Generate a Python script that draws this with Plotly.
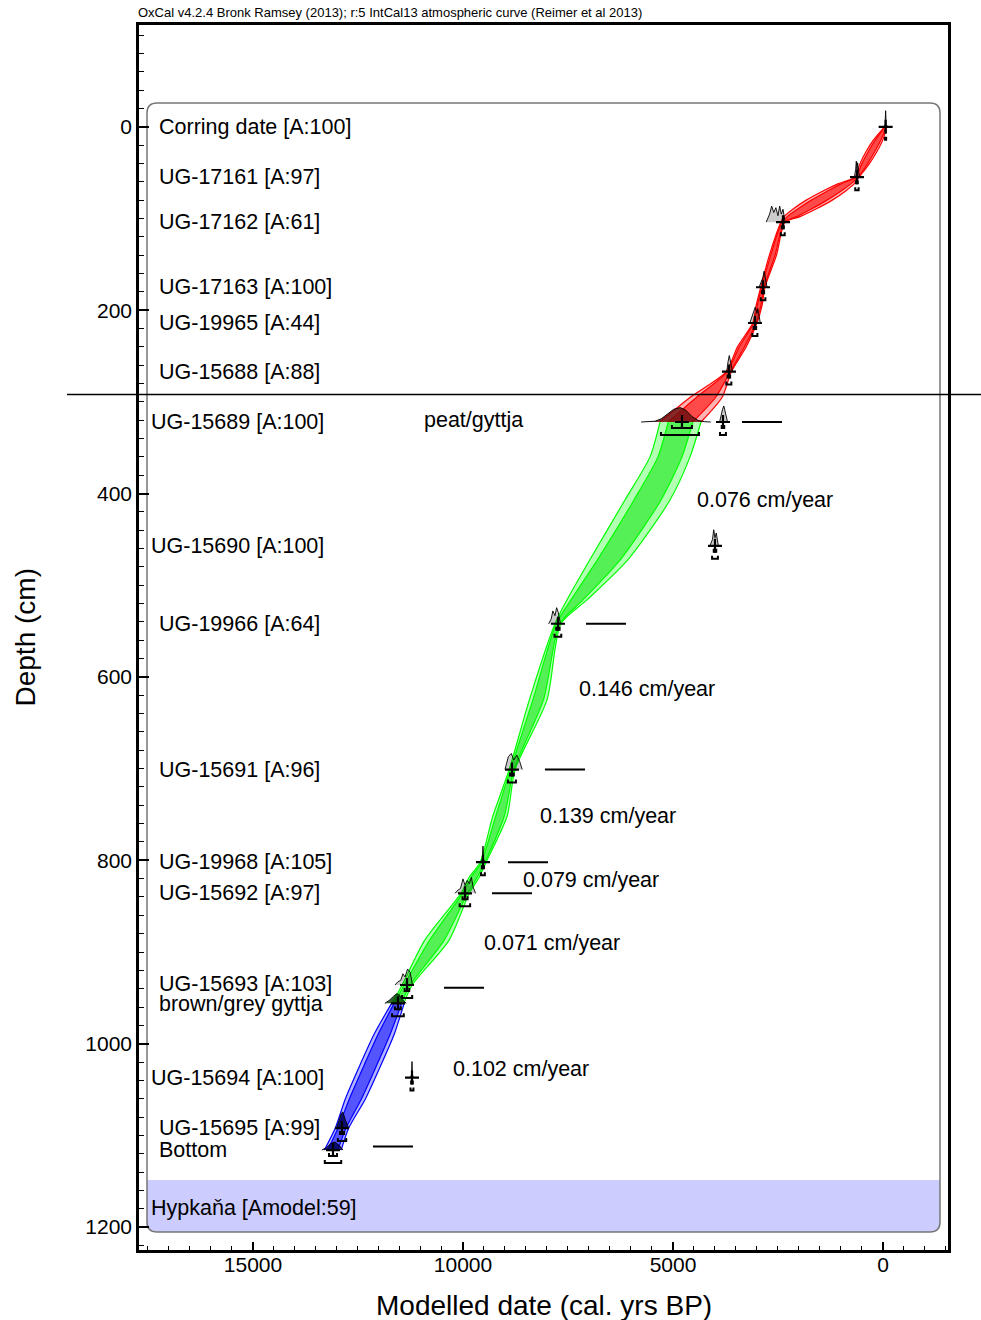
import plotly.graph_objects as go

FONT = "Liberation Sans, Arial, Helvetica, sans-serif"

# Figure and plot-area geometry (pixels)
FIG_W, FIG_H = 981, 1320
M_L, M_R, M_T, M_B = 139, 33, 25, 70
PLOT_W = FIG_W - M_L - M_R
PLOT_H = FIG_H - M_T - M_B

# Axis extents
year_range = [17714, -1548]   # cal BP, older to the left
depth_range = [1225, -111]    # cm, depth increases downward

x_major = [0, 5000, 10000, 15000]
y_major = [0, 200, 400, 600, 800, 1000, 1200]

# ---- Age-depth envelopes: 95% and 68% ranges (cal BP) at each depth ----
red_depth = [0, 14, 27, 41, 55, 62, 70, 80, 90, 98, 104, 140, 175, 195, 214,
             240, 267, 295, 322]
red_lo95 = [-88, 1, 142, 335, 569, 681, 888, 1208, 1608, 1975, 2331, 2535,
            2810, 2880, 3000, 3255, 3610, 3830, 4333]
red_hi95 = [-38, 221, 402, 555, 669, 1061, 1428, 1828, 2148, 2355, 2431, 2705,
            2910, 3020, 3100, 3465, 3730, 4590, 5310]
red_lo68 = [-78, 45, 194, 379, 589, 757, 996, 1332, 1716, 2051, 2351, 2569,
            2830, 2908, 3020, 3297, 3634, 3982, 4529]
red_hi68 = [-48, 177, 350, 511, 649, 985, 1320, 1704, 2040, 2279, 2411, 2671,
            2890, 2992, 3080, 3423, 3706, 4438, 5115]

green_depth = [322, 360, 407, 472, 516, 542, 625, 701, 752, 802, 819, 836,
               887, 936, 956]
green_lo95 = [4333, 4595, 5071, 6071, 7048, 7667, 8000, 8760, 8950, 9450,
              9620, 9850, 10330, 11210, 11410]
green_hi95 = [5310, 5548, 6143, 6976, 7524, 7810, 8420, 8900, 9290, 9590,
              9860, 10050, 10910, 11450, 11690]
green_lo68 = [4529, 4786, 5285, 6252, 7143, 7696, 8084, 8788, 9018, 9478,
              9668, 9890, 10446, 11258, 11466]
green_hi68 = [5115, 5358, 5929, 6796, 7429, 7782, 8336, 8872, 9222, 9562,
              9812, 10010, 10794, 11402, 11634]

blue_depth = [956, 990, 1023, 1060, 1092, 1116]
blue_lo95 = [11400, 11640, 11950, 12320, 12720, 12900]
blue_hi95 = [11700, 12120, 12450, 12800, 13040, 13300]
blue_lo68 = [11460, 11736, 12050, 12416, 12784, 12980]
blue_hi68 = [11640, 12024, 12350, 12704, 12976, 13220]

# ---- Modelled dates ----
mark_year = [-63, 619, 2381, 2857, 3048, 3667, 4786, 3810, 4000, 7738, 8833,
             9524, 9952, 11333, 11548, 11214, 12881, 13095]
mark_depth = [0, 55, 104, 175, 214, 267, 322, 322, 457, 542, 701,
              802, 836, 936, 956, 1037, 1092, 1116]
range68_lo = [-68, 600, 2360, 2830, 3020, 3640, 4548, 3780, 3970, 7700, 8790,
              9500, 9890, 11280, 11480, 11195, 12830, 13000]
range68_hi = [-58, 640, 2410, 2880, 3080, 3700, 5024, 3840, 4030, 7780, 8880,
              9550, 10010, 11390, 11620, 11235, 12930, 13190]
range95_lo = [-75, 580, 2340, 2800, 2990, 3610, 4381, 3740, 3930, 7660, 8740,
              9480, 9830, 11210, 11410, 11180, 12780, 12900]
range95_hi = [-50, 660, 2430, 2910, 3110, 3730, 5286, 3880, 4070, 7820, 8930,
              9570, 10080, 11450, 11690, 11250, 12980, 13290]

# Probability distributions drawn above each date (cal BP, relative density)
dist_years = [
    [-110, -75, -63, -50, -20],
    [560, 590, 605, 620, 635, 650, 680],
    [2330, 2380, 2420, 2460, 2500, 2550, 2600, 2650, 2700, 2740, 2780],
    [2760, 2800, 2830, 2860, 2900, 2950],
    [2920, 2980, 3000, 3040, 3080, 3120, 3170],
    [3580, 3630, 3660, 3690, 3720],
    [4100, 4250, 4400, 4550, 4700, 4830, 4980, 5130, 5280, 5430, 5760],
    [3700, 3760, 3790, 3820, 3850, 3890],
    [3920, 3970, 4000, 4030, 4060, 4120],
    [7680, 7730, 7770, 7810, 7860, 7900, 7960],
    [8590, 8650, 8720, 8790, 8850, 8920, 8960, 9000],
    [9480, 9510, 9524, 9540, 9570],
    [9700, 9760, 9800, 9850, 9900, 9950, 10000, 10060, 10120, 10190],
    [11200, 11260, 11320, 11380, 11430, 11480, 11550, 11620],
    [11350, 11450, 11520, 11580, 11650, 11750, 11860],
    [11180, 11205, 11214, 11225, 11250],
    [12720, 12800, 12860, 12900, 12960, 13010],
    [12860, 12950, 13050, 13150, 13250, 13360],
]
dist_dens = [
    [0, 0.15, 1.0, 0.15, 0],
    [0, 0.6, 0.9, 0.4, 1.0, 0.5, 0],
    [0, 0.8, 0.5, 1.0, 0.4, 0.9, 0.6, 1.0, 0.5, 0.3, 0],
    [0, 0.5, 1.0, 0.6, 0.3, 0],
    [0, 0.9, 0.6, 1.0, 0.7, 0.4, 0],
    [0, 0.7, 1.0, 0.6, 0],
    [0, 0.02, 0.1, 0.35, 0.75, 0.9, 0.8, 0.5, 0.2, 0.05, 0],
    [0, 0.6, 1.0, 0.8, 0.4, 0],
    [0, 0.8, 0.5, 1.0, 0.4, 0],
    [0, 0.7, 1.0, 0.5, 0.8, 0.3, 0],
    [0, 0.5, 0.9, 0.6, 1.0, 0.8, 0.4, 0],
    [0, 0.2, 1.0, 0.2, 0],
    [0, 0.4, 1.0, 0.6, 0.8, 0.5, 0.9, 0.3, 0.2, 0],
    [0, 0.8, 1.0, 0.5, 0.7, 0.3, 0.2, 0],
    [0, 0.25, 0.55, 0.6, 0.45, 0.2, 0],
    [0, 0.2, 1.0, 0.2, 0],
    [0, 0.5, 1.0, 0.9, 0.4, 0],
    [0, 0.3, 0.5, 0.4, 0.15, 0],
]
GREY = "rgba(0,0,0,0.2)"
dist_fill = [GREY] * 6 + ["rgba(110,15,15,0.85)"] + [GREY] * 7 + \
            ["rgba(0,60,0,0.8)", GREY, "rgba(0,0,90,0.85)", "rgba(0,0,90,0.85)"]

# Sequence labels (left column)
label_text = ["Corring date [A:100]", "UG-17161 [A:97]", "UG-17162 [A:61]",
              "UG-17163 [A:100]", "UG-19965 [A:44]", "UG-15688 [A:88]",
              "UG-15689 [A:100]", "UG-15690 [A:100]", "UG-19966 [A:64]",
              "UG-15691 [A:96]", "UG-19968 [A:105]", "UG-15692 [A:97]",
              "UG-15693 [A:103]", "brown/grey gyttja", "UG-15694 [A:100]",
              "UG-15695 [A:99]", "Bottom", "Hypkaňa [Amodel:59]"]
label_depth = [0, 54.5, 103.6, 174.5, 213.8, 267.3, 321.8, 457, 542, 701.5,
               801.8, 835.6, 935, 956.5, 1037.5, 1092, 1116, 1179]
label_left_px = [159, 159, 159, 159, 159, 159, 151, 151, 159, 159,
                 159, 159, 159, 159, 151, 159, 159, 151]

# Accumulation rates
rate_text = ["0.076 cm/year", "0.146 cm/year", "0.139 cm/year",
             "0.079 cm/year", "0.071 cm/year", "0.102 cm/year"]
rate_year = [4429, 7238, 8167, 8571, 9500, 10238]
rate_depth = [407, 613, 752, 821, 890, 1028]

# Horizontal depth markers
dash_lo = [2405, 6119, 7095, 7976, 8357, 9500, 11190]
dash_hi = [3357, 7071, 8048, 8929, 9310, 10452, 12143]
dash_depth = [322, 542, 701, 802, 836, 939, 1112]

facies_text = "peat/gyttja"
facies_year = 10929
facies_depth = 320
facies_boundary_depth = 292

# ---------------------------------------------------------------------------
CM_PER_PX = (depth_range[0] - depth_range[1]) / PLOT_H


def paper_x(px):
    return (px - M_L) / PLOT_W


def paper_y(py):
    return (FIG_H - M_B - py) / PLOT_H


def depth_to_paper(d):
    return (depth_range[0] - d) / (depth_range[0] - depth_range[1])


fig = go.Figure()


def add_band(depth, lo95, hi95, lo68, hi68, edge, light, dark):
    style = dict(mode="lines", hoverinfo="skip", showlegend=False,
                 line=dict(color=edge, width=1.2, shape="spline", smoothing=0.7))
    fig.add_trace(go.Scatter(x=lo95, y=depth, **style))
    fig.add_trace(go.Scatter(x=hi95, y=depth, fill="tonextx", fillcolor=light, **style))
    fig.add_trace(go.Scatter(x=lo68, y=depth, **style))
    fig.add_trace(go.Scatter(x=hi68, y=depth, fill="tonextx", fillcolor=dark, **style))


add_band(red_depth, red_lo95, red_hi95, red_lo68, red_hi68,
         "#ff0000", "#ffb3b3", "#ff4a4a")
add_band(green_depth, green_lo95, green_hi95, green_lo68, green_hi68,
         "#00ff00", "#b3ffb3", "#55f055")
add_band(blue_depth, blue_lo95, blue_hi95, blue_lo68, blue_hi68,
         "#0000ff", "#b3b3ff", "#5555ff")

# Distributions
DIST_H = 17.5  # cm at unit density
for yrs, dens, d0, col in zip(dist_years, dist_dens, mark_depth, dist_fill):
    fig.add_trace(go.Scatter(
        x=yrs, y=[d0 - v * DIST_H for v in dens], mode="lines",
        fill="toself", fillcolor=col, line=dict(color="black", width=0.9),
        hoverinfo="skip", showlegend=False))

# Range brackets below each date
off68, off95, tick = 6 * CM_PER_PX, 13 * CM_PER_PX, 3 * CM_PER_PX
bx, by = [], []
for d0, a, b in zip(mark_depth, range68_lo, range68_hi):
    bx += [a, a, b, b, None]
    by += [d0 + off68 - tick, d0 + off68, d0 + off68, d0 + off68 - tick, None]
for d0, a, b in zip(mark_depth, range95_lo, range95_hi):
    bx += [a, a, b, b, None]
    by += [d0 + off95 - tick, d0 + off95, d0 + off95, d0 + off95 - tick, None]
fig.add_trace(go.Scatter(x=bx, y=by, mode="lines", line=dict(color="black", width=2),
                         hoverinfo="skip", showlegend=False))

# Median crosses
fig.add_trace(go.Scatter(
    x=mark_year, y=mark_depth, mode="markers",
    marker=dict(symbol="cross-thin", size=10, color="black",
                line=dict(color="black", width=2.2)),
    hoverinfo="skip", showlegend=False))

# Depth marker dashes
dx, dy = [], []
for a, b, d0 in zip(dash_lo, dash_hi, dash_depth):
    dx += [a, b, None]
    dy += [d0, d0, None]
fig.add_trace(go.Scatter(x=dx, y=dy, mode="lines", line=dict(color="black", width=2),
                         hoverinfo="skip", showlegend=False))

# ---- Frame decorations ----
shapes = []
bx0, bx1, by0, by1, r = 147, 940, 103, 1232, 10
rx, ry = r / PLOT_W, r / PLOT_H
X0, X1, Y0, Y1 = paper_x(bx0), paper_x(bx1), paper_y(by0), paper_y(by1)
Yh = paper_y(1180)
hyp_path = (f"M{X0},{Yh} L{X1},{Yh} L{X1},{Y1 + ry} Q{X1},{Y1} {X1 - rx},{Y1} "
            f"L{X0 + rx},{Y1} Q{X0},{Y1} {X0},{Y1 + ry} Z")
shapes.append(dict(type="path", xref="paper", yref="paper", path=hyp_path,
                   fillcolor="#ccccff", line=dict(width=0), layer="below"))
box_path = (f"M{X0 + rx},{Y0} L{X1 - rx},{Y0} Q{X1},{Y0} {X1},{Y0 - ry} "
            f"L{X1},{Y1 + ry} Q{X1},{Y1} {X1 - rx},{Y1} L{X0 + rx},{Y1} "
            f"Q{X0},{Y1} {X0},{Y1 + ry} L{X0},{Y0 - ry} Q{X0},{Y0} {X0 + rx},{Y0} Z")
shapes.append(dict(type="path", xref="paper", yref="paper", path=box_path,
                   line=dict(color="#777777", width=1.5), layer="below"))
yb = depth_to_paper(facies_boundary_depth)
shapes.append(dict(type="line", xref="paper", yref="paper",
                   x0=paper_x(67), x1=paper_x(FIG_W), y0=yb, y1=yb,
                   line=dict(color="black", width=1.5), layer="above"))

# ---- Text ----
ann = []
for t, d0, lp in zip(label_text, label_depth, label_left_px):
    ann.append(dict(text=t, xref="paper", yref="y", x=paper_x(lp - 2), y=d0,
                    xanchor="left", yanchor="middle", showarrow=False,
                    font=dict(size=21.5, color="black")))
for t, yr, d0 in zip(rate_text, rate_year, rate_depth):
    ann.append(dict(text=t, xref="x", yref="y", x=yr, y=d0, xanchor="left",
                    yanchor="middle", showarrow=False, xshift=-2,
                    font=dict(size=21.5, color="black")))
ann.append(dict(text=facies_text, xref="x", yref="y", x=facies_year, y=facies_depth,
                xanchor="left", yanchor="middle", showarrow=False, xshift=-2,
                font=dict(size=21.5, color="black")))
ann.append(dict(text="OxCal v4.2.4 Bronk Ramsey (2013); r:5 IntCal13 atmospheric curve (Reimer et al 2013)",
                xref="paper", yref="paper", x=paper_x(136), y=paper_y(12),
                xanchor="left", yanchor="middle", showarrow=False,
                font=dict(size=13, color="black")))
ann.append(dict(text="Modelled date (cal. yrs BP)", xref="paper", yref="paper",
                x=0.5, y=paper_y(1305), xanchor="center", yanchor="middle",
                showarrow=False, font=dict(size=28, color="black")))
ann.append(dict(text="Depth (cm)", xref="paper", yref="paper", x=paper_x(25),
                y=0.5, xanchor="center", yanchor="middle", textangle=-90,
                showarrow=False, font=dict(size=28, color="black")))

fig.update_layout(
    width=FIG_W, height=FIG_H,
    margin=dict(l=M_L, r=M_R, t=M_T, b=M_B, autoexpand=False),
    paper_bgcolor="white", plot_bgcolor="white",
    font=dict(family=FONT, color="black"),
    shapes=shapes, annotations=ann, showlegend=False,
    xaxis=dict(range=year_range, autorange=False, showgrid=False, zeroline=False,
               showline=True, linecolor="black", linewidth=2.5, mirror=True,
               ticks="inside", ticklen=8, tickwidth=2, tickcolor="black",
               tickvals=x_major, ticktext=[str(v) for v in x_major],
               ticklabelstandoff=-6,
               tickfont=dict(size=21, color="black"),
               minor=dict(dtick=500, tick0=0, ticks="inside", ticklen=4,
                          tickwidth=1.2, tickcolor="black")),
    yaxis=dict(range=depth_range, autorange=False, showgrid=False, zeroline=False,
               showline=True, linecolor="black", linewidth=2.5, mirror=True,
               ticks="inside", ticklen=10, tickwidth=2, tickcolor="black",
               tickvals=y_major, ticktext=[str(v) for v in y_major],
               tickfont=dict(size=21, color="black"),
               minor=dict(dtick=20, tick0=0, ticks="inside", ticklen=5,
                          tickwidth=1.2, tickcolor="black")),
)

fig.write_html("out.html")
